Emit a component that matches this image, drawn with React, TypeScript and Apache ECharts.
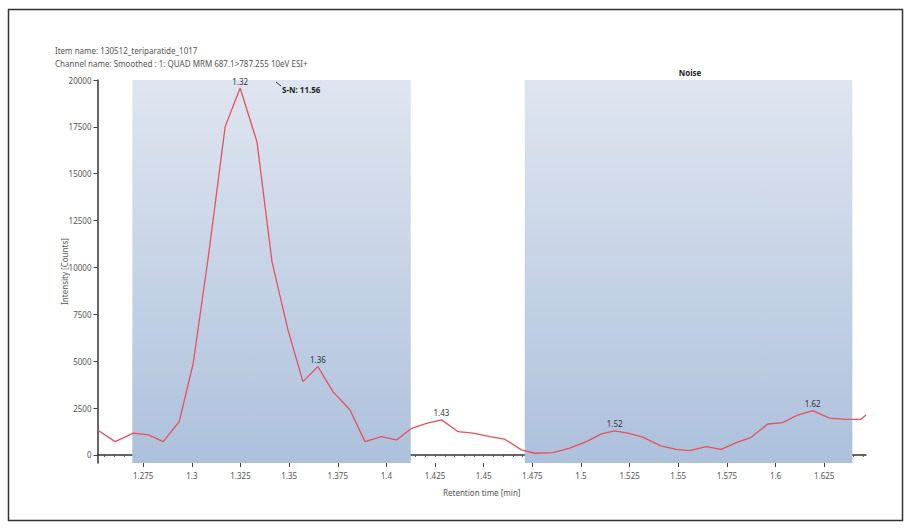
import React, { useEffect, useRef } from "react";
import * as echarts from "echarts";

const retentionTimes = [
  1.2515, 1.2606, 1.2699, 1.2776, 1.2853, 1.2935, 1.3007, 1.3085, 1.3171, 1.3248,
  1.3335, 1.3412, 1.3494, 1.3571, 1.3648, 1.3725, 1.3813, 1.389, 1.3975, 1.4052,
  1.413, 1.4206, 1.4283, 1.4369, 1.4445, 1.4531, 1.4608, 1.4694, 1.4763, 1.4857,
  1.4942, 1.5028, 1.5105, 1.5173, 1.5241, 1.5318, 1.541, 1.549, 1.5558, 1.5644,
  1.5721, 1.5798, 1.5875, 1.596, 1.6037, 1.6114, 1.6191, 1.6277, 1.6362, 1.6439, 1.6465,
];
const intensities = [
  1330, 710, 1160, 1070, 710, 1780, 4890, 10600, 17500, 19570,
  16690, 10300, 6670, 3910, 4710, 3380, 2400, 710, 980, 800,
  1420, 1680, 1870, 1240, 1160, 980, 840, 270, 90, 120,
  360, 710, 1120, 1280, 1160, 950, 480, 300, 230, 440,
  300, 660, 940, 1650, 1720, 2130, 2360, 1960, 1900, 1900, 2130,
];
// indices of labelled peaks
const peakIndices = [9, 14, 22, 33, 46];

const xTickLabels = [1.275, 1.3, 1.325, 1.35, 1.375, 1.4, 1.425, 1.45, 1.475, 1.5, 1.525, 1.55, 1.575, 1.6, 1.625];
const yTickLabels = [0, 2500, 5000, 7500, 10000, 12500, 15000, 17500, 20000];

const signalWindow = [1.2694, 1.4125];
const noiseWindow = [1.4711, 1.6395];

const itemName = "Item name: 130512_teriparatide_1017";
const channelName = "Channel name: Smoothed : 1: QUAD MRM 687.1>787.255 10eV ESI+";
const snText = "S-N: 11.56";
const noiseText = "Noise";

const X_MIN = 1.2515;
const X_MAX = 1.6465;
const Y_MIN = -430;
const Y_MAX = 20000;

const FONT = "Noto Sans";

export default function App() {
  const ref = useRef<HTMLDivElement>(null);
  useEffect(() => {
    if (!ref.current) return;
    const chart = echarts.init(ref.current, null, { renderer: "svg" });

    const minorX: number[] = [];
    for (let v = 1.255; v <= X_MAX; v += 0.005) minorX.push(+v.toFixed(3));

    const data = retentionTimes.map((t, i) => {
      if (peakIndices.includes(i)) {
        return {
          value: [t, intensities[i]],
          label: {
            show: true,
            position: "top",
            distance: 3,
            formatter: t.toFixed(2),
            fontSize: 8,
            fontFamily: FONT,
            color: "#333",
          },
        };
      }
      return { value: [t, intensities[i]] };
    });

    const shade = {
      type: "linear",
      x: 0,
      y: 0,
      x2: 0,
      y2: 1,
      colorStops: [
        { offset: 0, color: "#dfe5f0" },
        { offset: 1, color: "#adc1dc" },
      ],
    };

    chart.setOption({
      animation: false,
      backgroundColor: "#ffffff",
      title: [
        {
          text: itemName,
          left: 50,
          top: 41,
          textStyle: { fontSize: 8, fontWeight: "normal", color: "#555", fontFamily: FONT },
        },
        {
          text: channelName,
          left: 50,
          top: 54,
          textStyle: { fontSize: 8, fontWeight: "normal", color: "#555", fontFamily: FONT },
        },
      ],
      grid: { left: 97.5, right: 46, top: 80, bottom: 66, containLabel: false },
      xAxis: [
        {
          type: "value",
          min: X_MIN,
          max: X_MAX,
          position: "bottom",
          splitLine: { show: false },
          axisLine: { show: true, lineStyle: { color: "#333", width: 1.5 } },
          axisTick: { show: true, customValues: minorX, length: 2, lineStyle: { color: "#555" } },
          axisLabel: { show: false },
          name: "Retention time [min]",
          nameLocation: "middle",
          nameGap: 25,
          nameTextStyle: { fontSize: 8, color: "#555", fontFamily: FONT },
        },
        {
          type: "value",
          min: X_MIN,
          max: X_MAX,
          position: "bottom",
          offset: 0,
          splitLine: { show: false },
          axisLine: { show: false },
          axisTick: { show: true, customValues: xTickLabels, length: 4, lineStyle: { color: "#444" } },
          axisLabel: {
            show: true,
            customValues: xTickLabels,
            formatter: (v: number) => String(+v.toFixed(3)),
            fontSize: 8,
            color: "#555",
            fontFamily: FONT,
            margin: 8,
          },
        },
      ],
      yAxis: [
        {
          type: "value",
          min: Y_MIN,
          max: Y_MAX,
          splitLine: { show: false },
          axisLine: { show: true, lineStyle: { color: "#333", width: 1.5 } },
          axisTick: { show: true, customValues: yTickLabels, length: 4, lineStyle: { color: "#444" } },
          axisLabel: {
            show: true,
            customValues: yTickLabels,
            formatter: (v: number) => String(v),
            fontSize: 8,
            color: "#555",
            fontFamily: FONT,
            margin: 6,
          },
          name: "Intensity [Counts]",
          nameLocation: "middle",
          nameGap: 29,
          nameMoveOverlap: false,
          nameTextStyle: { fontSize: 8, color: "#555", fontFamily: FONT },
        },
      ],
      series: [
        {
          type: "line",
          xAxisIndex: 0,
          yAxisIndex: 0,
          data,
          showSymbol: true,
          symbol: "circle",
          symbolSize: 0,
          itemStyle: { color: "#e8505c" },
          lineStyle: { color: "#e8505c", width: 1.3 },
          z: 3,
          markArea: {
            silent: true,
            itemStyle: { color: shade as any },
            data: [
              [{ xAxis: signalWindow[0], yAxis: Y_MIN }, { xAxis: signalWindow[1], yAxis: Y_MAX }],
              [{ xAxis: noiseWindow[0], yAxis: Y_MIN }, { xAxis: noiseWindow[1], yAxis: Y_MAX }],
            ],
          },
        },
      ],
      graphic: [
        {
          type: "rect",
          z: 100,
          shape: { x: 8.5, y: 9.5, width: 894, height: 511 },
          style: { fill: "none", stroke: "#333", lineWidth: 1.5 },
          silent: true,
        },
        {
          type: "line",
          z: 100,
          shape: { x1: 276, y1: 82, x2: 281, y2: 86 },
          style: { stroke: "#333", lineWidth: 1 },
          silent: true,
        },
        {
          type: "text",
          z: 100,
          x: 282,
          y: 89,
          style: {
            text: snText,
            fontSize: 8,
            fontWeight: "bold",
            fill: "#222",
            fontFamily: FONT,
            verticalAlign: "middle",
          },
          silent: true,
        },
        {
          type: "text",
          z: 100,
          x: 690,
          y: 72,
          style: {
            text: noiseText,
            fontSize: 8,
            fontWeight: "bold",
            fill: "#222",
            fontFamily: FONT,
            align: "center",
            verticalAlign: "middle",
          },
          silent: true,
        },
      ],
    });
    return () => chart.dispose();
  }, []);

  return (
    <div
      ref={ref}
      style={{ position: "fixed", left: 0, top: 0, width: 912, height: 529, background: "#fff" }}
    />
  );
}
